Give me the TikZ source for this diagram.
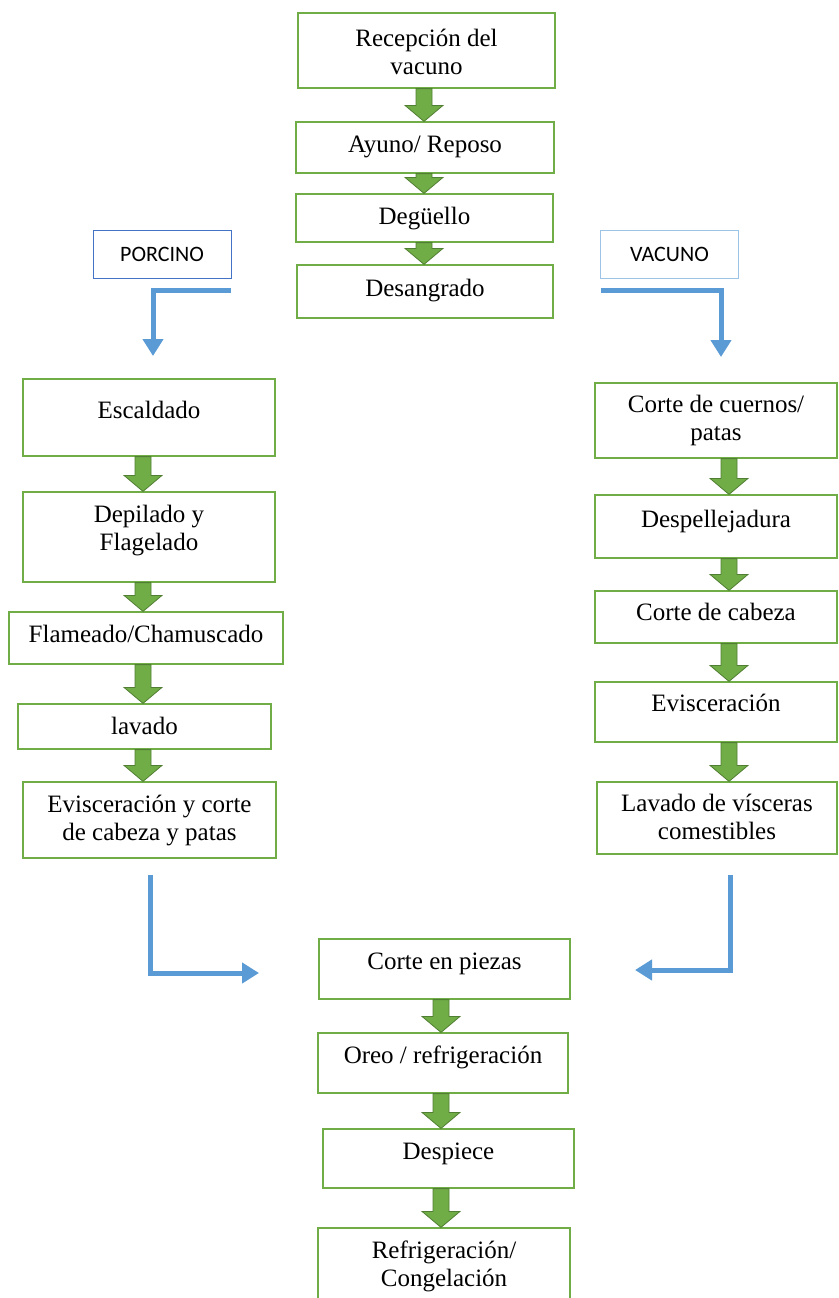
\documentclass[tikz,border=0pt]{standalone}
\usepackage{fontspec}
\setmainfont{Liberation Serif}
\newfontfamily\lblfont{Carlito}
\usetikzlibrary{arrows.meta,fit,calc}
\definecolor{gbord}{HTML}{70AD47}
\definecolor{gfill}{HTML}{70AD47}
\definecolor{gdark}{HTML}{507E32}
\definecolor{bline}{HTML}{5B9BD5}
\definecolor{bboxa}{HTML}{4472C4}
\definecolor{bboxb}{HTML}{9DC3E6}
\newcommand\tworows[2]{\begin{tabular}[t]{@{}c@{}}#1\\#2\end{tabular}}
\tikzset{
  pbox/.style={draw=gbord, line width=1.2pt, inner sep=0pt, fill=white},
  ptxt/.style={inner sep=0pt, font=\fontsize{25}{28}\selectfont},
  garr/.style={fill=gfill, draw=gdark, line width=0.8pt, line join=miter},
  lblbox/.style={line width=1pt, inner sep=0pt, minimum width=138pt, minimum height=48pt, font=\lblfont\fontsize{22}{26}\selectfont},
  barr/.style={draw=bline, line width=5pt, line join=miter, -{Triangle[width=20pt,length=17pt]}}
}
\newcommand\procbox[7]{%
  \node[pbox, fit={(#2,#3) (#4,#5)}] (#1) {};
  \node[ptxt, anchor=base] (#1-t) at ([yshift=-#6pt]#1.north) {#7};
}
\newcommand\garrow[3]{%
  \path[garr] let \p1=(#2.south), \p2=(#3.north) in
   ({#1pt-8pt},\y1) -- ({#1pt+8pt},\y1) -- ({#1pt+8pt},{\y2+16pt}) -- ({#1pt+19pt},{\y2+16pt})
   -- ({#1pt},\y2) -- ({#1pt-19pt},{\y2+16pt}) -- ({#1pt-8pt},{\y2+16pt}) -- cycle;
}
\begin{document}
\begin{tikzpicture}[x=1pt,y=-1pt]
\useasboundingbox (0,0) rectangle (838,1298);
\fill[white] (0,0) rectangle (838,1298);
% central top column
\procbox{t1}{298}{13}{555}{88}{34}{\tworows{Recepción del}{vacuno}}
\procbox{t2}{296}{122}{554}{173}{31}{Ayuno/ Reposo}
\procbox{t3}{296}{194}{553}{242}{31}{Degüello}
\procbox{t4}{297}{265}{553}{318}{32}{Desangrado}
% left column
\procbox{l1}{23}{379}{275}{456}{40}{Escaldado}
\procbox{l2}{23}{492}{275}{582}{31}{\tworows{Depilado y}{Flagelado}}
\procbox{l3}{9}{612}{283}{664}{31}{Flameado/Chamuscado}
\procbox{l4}{18}{704}{271}{749}{31}{lavado}
\procbox{l5}{23}{782}{276}{858}{31}{\tworows{Evisceración y corte}{de cabeza y patas}}
% right column
\procbox{r1}{595}{383}{837}{458}{30}{\tworows{Corte de cuernos/}{patas}}
\procbox{r2}{595}{495}{837}{558}{33}{Despellejadura}
\procbox{r3}{595}{591}{837}{643}{30}{Corte de cabeza}
\procbox{r4}{595}{682}{837}{742}{30}{Evisceración}
\procbox{r5}{597}{782}{837}{854}{30}{\tworows{Lavado de vísceras}{comestibles}}
% bottom column
\procbox{b1}{319}{939}{570}{999}{31}{Corte en piezas}
\procbox{b2}{318}{1033}{568}{1093}{31}{Oreo / refrigeración}
\procbox{b3}{323}{1129}{574}{1188}{31}{Despiece}
\procbox{b4}{318}{1228}{570}{1320}{31}{\tworows{Refrigeración/}{Congelación}}
% green arrows
\garrow{424}{t1}{t2}
\garrow{424}{t2}{t3}
\garrow{424}{t3}{t4}
\garrow{143}{l1}{l2}
\garrow{143}{l2}{l3}
\garrow{143}{l3}{l4}
\garrow{143}{l4}{l5}
\garrow{729}{r1}{r2}
\garrow{729}{r2}{r3}
\garrow{729}{r3}{r4}
\garrow{729}{r4}{r5}
\garrow{441}{b1}{b2}
\garrow{441}{b2}{b3}
\garrow{441}{b3}{b4}
% labels
\node[lblbox, draw=bboxa] (porc) at (162,254) {PORCINO};
\node[lblbox, draw=bboxb] (vac) at (669.5,254) {VACUNO};
% blue elbow arrows
\coordinate (p1) at (231,290);
\coordinate (p2) at (153,356);
\coordinate (v1) at (601,290);
\coordinate (v2) at (721,357);
\coordinate (c1) at (150,875);
\coordinate (c2) at (259,973);
\coordinate (d1) at (730,875);
\coordinate (d2) at (635,970);
\draw[barr] (p1) -| (p2);
\draw[barr] (v1) -| (v2);
\draw[barr] (c1) |- (c2);
\draw[barr] (d1) |- (d2);
\end{tikzpicture}
\end{document}
